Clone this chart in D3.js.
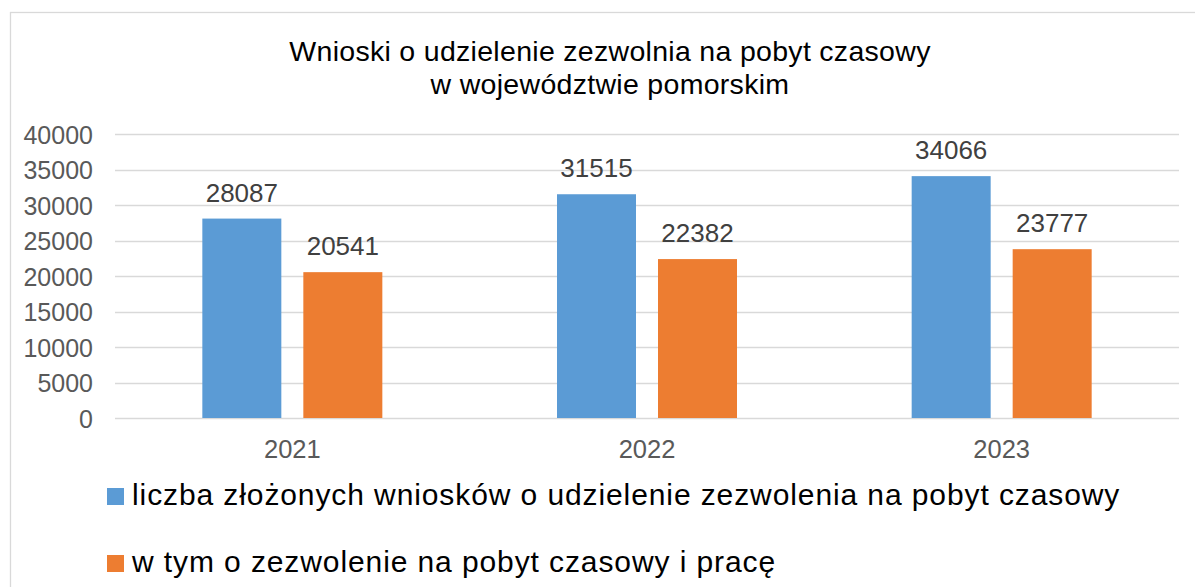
<!DOCTYPE html>
<html>
<head>
<meta charset="utf-8">
<script src="https://cdn.jsdelivr.net/npm/d3@7"></script>
<style>
html,body{margin:0;padding:0;background:#fff;}
svg{display:block;font-family:"Liberation Sans",Arial,sans-serif;}
</style>
</head>
<body>
<svg id="chart" width="1195" height="587"></svg>
<script>
const categories = ["2021", "2022", "2023"];
const seriesNames = [
  "liczba złożonych wniosków o udzielenie zezwolenia na pobyt czasowy",
  "w tym o zezwolenie na pobyt czasowy i pracę"
];
const seriesTotal = [28087, 31515, 34066];
const seriesWork = [20541, 22382, 23777];
const yTicks = [0, 5000, 10000, 15000, 20000, 25000, 30000, 35000, 40000];
const titleLines = ["Wnioski o udzielenie zezwolnia na pobyt czasowy", "w województwie pomorskim"];
const colors = ["#5B9BD5", "#ED7D31"];

const series = [seriesTotal, seriesWork];
const svg = d3.select("#chart");

// outer border
svg.append("rect").attr("x", 10.5).attr("y", 12.5).attr("width", 1200).attr("height", 600)
  .attr("fill", "none").attr("stroke", "#D9D9D9").attr("stroke-width", 1.3);

const plotLeft = 115, plotRight = 1179, plotTop = 134, plotBottom = 418;
const x = d3.scaleBand().domain(categories).range([plotLeft, plotRight]).paddingInner(0).paddingOuter(0);
const y = d3.scaleLinear().domain([0, 40000]).range([plotBottom, plotTop]);

// title
const title = svg.append("text").attr("text-anchor", "middle").attr("fill", "#000")
  .attr("font-size", 28.5).attr("letter-spacing", 0.3);
titleLines.forEach((t, i) => {
  title.append("tspan").attr("x", 610).attr("y", 61 + i * 33).text(t);
});

// gridlines
svg.append("g").selectAll("line").data(yTicks).join("line")
  .attr("x1", plotLeft).attr("x2", plotRight)
  .attr("y1", d => Math.round(y(d)) + 0.5).attr("y2", d => Math.round(y(d)) + 0.5)
  .attr("stroke", "#D9D9D9").attr("stroke-width", 1.5);

// y axis labels
const yAxis = d3.axisLeft(y).tickValues(yTicks).tickSize(0).tickPadding(0).tickFormat(d3.format("d"));
const yg = svg.append("g").attr("transform", `translate(93,0)`).call(yAxis);
yg.select(".domain").remove();
yg.selectAll("text").attr("font-size", 25).attr("fill", "#595959").attr("font-family", "Liberation Sans, Arial, sans-serif").attr("dy", "0.36em");

// x axis labels
const xAxis = d3.axisBottom(x).tickSize(0).tickPadding(0);
const xg = svg.append("g").attr("transform", `translate(0,${plotBottom})`).call(xAxis);
xg.select(".domain").remove();
xg.selectAll("text").attr("font-size", 25.5).attr("fill", "#595959").attr("font-family", "Liberation Sans, Arial, sans-serif").attr("dy", null).attr("y", 40);

// bars
const barW = 79, gap = 22;
const offsets = [-gap / 2 - barW, gap / 2];
series.forEach((vals, si) => {
  const g = svg.append("g");
  g.selectAll("rect").data(vals).join("rect")
    .attr("x", (d, i) => x(categories[i]) + x.bandwidth() / 2 + offsets[si])
    .attr("y", d => y(d))
    .attr("width", barW)
    .attr("height", d => y(0) - y(d))
    .attr("fill", colors[si]);
  g.selectAll("text").data(vals).join("text")
    .attr("x", (d, i) => x(categories[i]) + x.bandwidth() / 2 + offsets[si] + barW / 2)
    .attr("y", d => y(d) - 17)
    .attr("text-anchor", "middle")
    .attr("font-size", 26).attr("fill", "#404040")
    .text(d => d);
});

// legend
const legend = svg.append("g");
seriesNames.forEach((name, i) => {
  const yb = 505 + i * 67;
  legend.append("rect").attr("x", 107).attr("y", yb - 17).attr("width", 17).attr("height", 17).attr("fill", colors[i]);
  legend.append("text").attr("x", 132).attr("y", yb).attr("font-size", 30).attr("letter-spacing", 0.9)
    .attr("fill", "#000").text(name);
});
</script>
</body>
</html>
